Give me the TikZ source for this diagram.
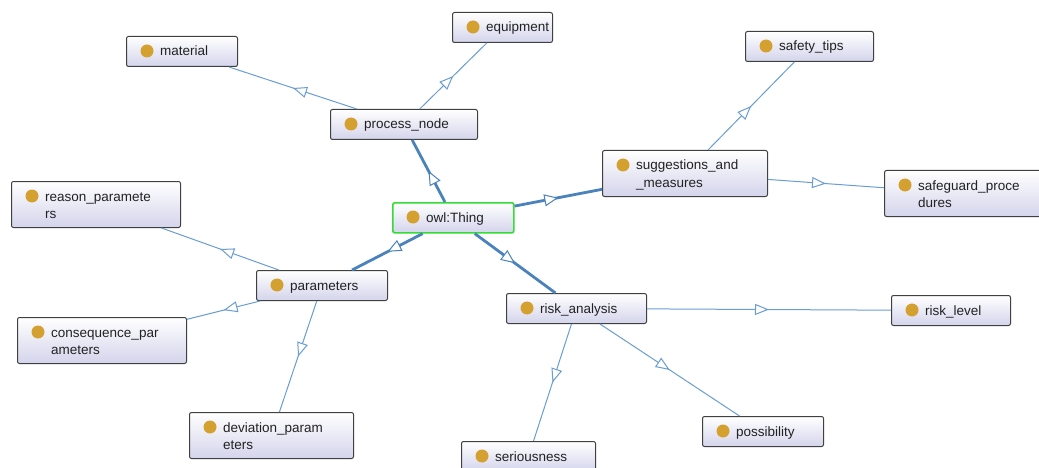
\documentclass[tikz,border=0pt]{standalone}
\usepackage{fontspec}
\setmainfont{Liberation Sans}
\usetikzlibrary{arrows.meta,decorations.markings}
\definecolor{edgec}{HTML}{6A9ED2}
\definecolor{edgemain}{HTML}{4A82BC}
\definecolor{boxbot}{HTML}{D4D4EC}
\definecolor{boxline}{HTML}{404040}
\definecolor{dotc}{HTML}{D4A030}
\definecolor{greenline}{HTML}{33DD33}
\definecolor{txt}{HTML}{222222}
\newcommand\owlcls[7]{%
  \node[clsbox,#7,minimum width=#4pt,minimum height=#5pt,anchor=north west] (#1) at (#2,-#3) {};
  \fill[dotc] ([xshift=21pt,yshift=-15pt]#1.north west) circle (6.5pt);
  \node[lbl,anchor=base west] at ([xshift=34pt,yshift=-20pt]#1.north west) {#6};
}
\newcommand\twoline[2]{\vtop{\baselineskip=17.5pt\hbox{#1}\hbox{#2}}}
\begin{document}
\begin{tikzpicture}[x=1pt,y=1pt,
  clsbox/.style={rectangle,draw=boxline,line width=1pt,rounded corners=2pt,
    top color=white,bottom color=boxbot,inner sep=0pt},
  rootbox/.style={draw=greenline,line width=1.6pt},
  lbl/.style={inner sep=0pt,text=txt,font=\fontsize{13.5}{17.5}\selectfont},
  sub/.style={draw=edgec,line width=1pt,postaction={decorate,decoration={markings,
    mark=at position 0.5 with {\arrow[color=edgec,line width=1pt]{Triangle[length=14pt,width=11pt,fill=white]}}}}},
  mainedge/.style={draw=edgemain,line width=2.8pt,postaction={decorate,decoration={markings,
    mark=at position 0.5 with {\arrow[color=edgemain,line width=1pt]{Triangle[length=14pt,width=12pt,fill=white]}}}}}
]
\clip (0,0) rectangle (1039,-468);
\fill[white] (0,0) rectangle (1039,-468);
\owlcls{material}{126}{36}{111}{30}{material}{}
\owlcls{equipment}{452}{12}{100}{30}{equipment}{}
\owlcls{process}{330}{109}{147}{30}{process\_node}{}
\owlcls{safety}{745}{31}{128}{30}{safety\_tips}{}
\owlcls{sugg}{602}{150}{165}{46}{\twoline{suggestions\_and}{\_measures}}{}
\owlcls{safeguard}{884}{170}{160}{46}{\twoline{safeguard\_proce}{dures}}{}
\owlcls{reason}{11}{181}{169}{46}{\twoline{reason\_paramete}{rs}}{}
\owlcls{thing}{392}{202}{121}{30}{owl:Thing}{rootbox}
\owlcls{params}{256}{270}{131}{30}{parameters}{}
\owlcls{risk}{506}{293}{140}{30}{risk\_analysis}{}
\owlcls{level}{891}{295}{119}{30}{risk\_level}{}
\owlcls{conseq}{17}{317}{169}{46}{\twoline{consequence\_par}{ameters}}{}
\owlcls{deviation}{189}{412}{164}{46}{\twoline{deviation\_param}{eters}}{}
\owlcls{possib}{702}{416}{121}{30}{possibility}{}
\owlcls{serious}{461}{441}{134}{30}{seriousness}{}
\draw[mainedge] (thing) -- (process);
\draw[mainedge] (thing) -- (sugg);
\draw[mainedge] (thing) -- (params);
\draw[mainedge] (thing) -- (risk);
\draw[sub] (process) -- (material);
\draw[sub] (process) -- (equipment);
\draw[sub] (sugg) -- (safety);
\draw[sub] (sugg) -- (safeguard);
\draw[sub] (params) -- (reason);
\draw[sub] (params) -- (conseq);
\draw[sub] (params) -- (deviation);
\draw[sub] (risk) -- (level);
\draw[sub] (risk) -- (possib);
\draw[sub] (risk) -- (serious);
\end{tikzpicture}
\end{document}
